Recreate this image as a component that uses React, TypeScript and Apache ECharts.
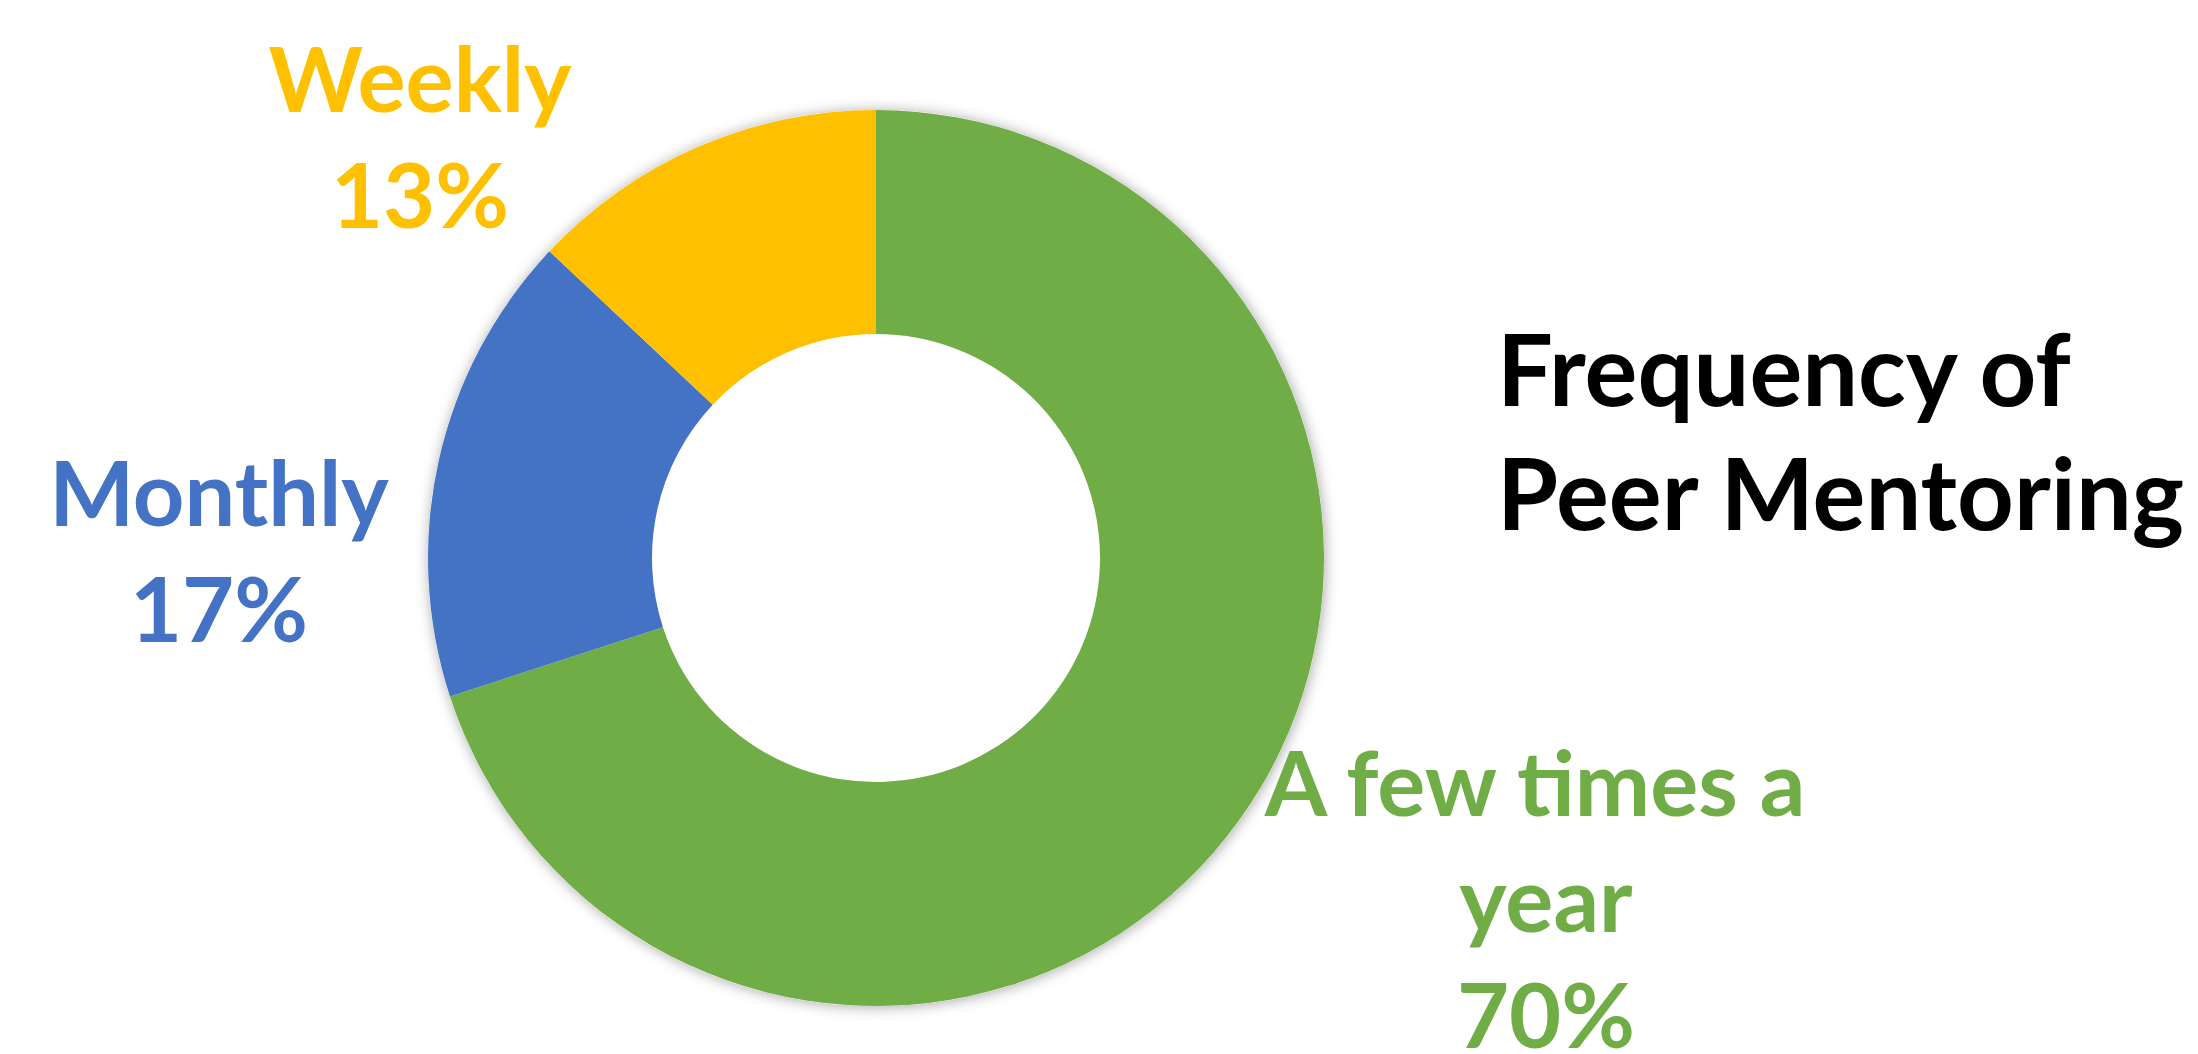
import React, { useEffect, useRef } from "react";
import * as echarts from "echarts";

const categories = ["A few times a year", "Monthly", "Weekly"];
const values = [70, 17, 13];
const colors = ["#70AD47", "#4472C4", "#FFC000"];
const titleLines = ["Frequency of", "Peer Mentoring"];
const labelAnchors: number[][] = [
  [1546, 897],
  [219, 549],
  [420, 135],
];

export default function App() {
  const ref = useRef<HTMLDivElement>(null);
  useEffect(() => {
    document.body.style.margin = "0";
    if (!ref.current) return;
    const chart = echarts.init(ref.current, null, { renderer: "svg" });
    const font = "Lato";
    chart.setOption({
      animation: false,
      backgroundColor: "#ffffff",
      title: {
        text: titleLines.join("\n"),
        left: 1497,
        top: 305,
        padding: 0,
        textStyle: {
          fontFamily: font,
          fontWeight: "bold",
          fontSize: 99,
          lineHeight: 124,
          color: "#000000",
        },
      },
      series: [
        {
          type: "pie",
          silent: true,
          center: [876, 558],
          radius: [0, 448],
          z: 1,
          label: { show: false },
          labelLine: { show: false },
          itemStyle: {
            color: "#ffffff",
            shadowBlur: 14,
            shadowColor: "rgba(0,0,0,0.35)",
            shadowOffsetX: 1,
            shadowOffsetY: 1,
          },
          data: [{ value: 1, name: "" }],
        },
        {
          type: "pie",
          center: [876, 558],
          radius: [224, 448],
          startAngle: 90,
          clockwise: true,
          z: 2,
          avoidLabelOverlap: false,
          labelLine: { show: false },
          label: {
            show: true,
            position: "outside",
            fontFamily: font,
            fontWeight: "bold",
            fontSize: 90,
            lineHeight: 116,
            width: 600,
            overflow: "break",
            align: "center",
            formatter: (p: any) => `${p.name}\n${Math.round(p.percent)}%`,
          },
          labelLayout: (params: any) => {
            const a = labelAnchors[params.dataIndex];
            return { x: a[0], y: a[1], align: "center", verticalAlign: "middle" };
          },
          data: categories.map((c, i) => ({
            name: c,
            value: values[i],
            itemStyle: { color: colors[i] },
            label: { color: colors[i] },
          })),
        },
      ],
    });
    return () => chart.dispose();
  }, []);
  return <div ref={ref} style={{ width: 2198, height: 1054 }} />;
}
